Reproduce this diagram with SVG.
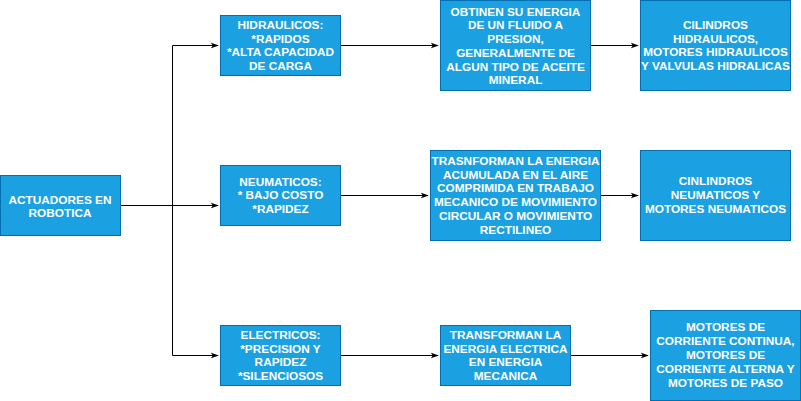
<svg xmlns="http://www.w3.org/2000/svg" width="801" height="401" viewBox="0 0 801 401">
<style>
.box{fill:#1ba1e2;stroke:#006eaf;stroke-width:1}
.t{font-family:"Liberation Sans",Arial,sans-serif;font-weight:bold;font-size:11.8px;fill:#ffffff;text-anchor:middle}
.e{fill:none;stroke:#000000;stroke-width:1}
</style>
<defs>
<marker id="arr" viewBox="0 0 10 10" refX="9" refY="5" markerWidth="8" markerHeight="8" markerUnits="userSpaceOnUse" orient="auto">
<path d="M0,1.5 L10,5 L0,8.5 L2.5,5 Z" fill="#000"/>
</marker>
</defs>
<rect width="801" height="401" fill="#ffffff"/>
<g id="connectors">
<path class="e" d="M120.5,205.5 H218" marker-end="url(#arr)"/>
<path class="e" d="M172.5,205.5 V45.5 H218" marker-end="url(#arr)"/>
<path class="e" d="M172.5,205.5 V355.5 H218" marker-end="url(#arr)"/>
<path class="e" d="M340.5,45.5 H438" marker-end="url(#arr)"/>
<path class="e" d="M590.5,45.5 H638" marker-end="url(#arr)"/>
<path class="e" d="M340.5,195.5 H428" marker-end="url(#arr)"/>
<path class="e" d="M600.5,195.5 H638" marker-end="url(#arr)"/>
<path class="e" d="M340.5,355.5 H438" marker-end="url(#arr)"/>
<path class="e" d="M570.5,355.5 H648" marker-end="url(#arr)"/>
</g>
<g id="actuadores">
<rect class="box" x="0.5" y="175.5" width="120" height="60"/>
<text class="t" x="60" y="203.5">ACTUADORES EN</text>
<text class="t" x="60" y="217">ROBOTICA</text>
</g>
<g id="hidraulicos">
<rect class="box" x="220.5" y="15.5" width="120" height="60"/>
<text class="t" x="280.5" y="29">HIDRAULICOS:</text>
<text class="t" x="280.5" y="42.5">*RAPIDOS</text>
<text class="t" x="280.5" y="56.3">*ALTA CAPACIDAD</text>
<text class="t" x="280.5" y="70">DE CARGA</text>
</g>
<g id="obtinen">
<rect class="box" x="440.5" y="0.5" width="150" height="90"/>
<text class="t" x="515.5" y="15.8">OBTINEN SU ENERGIA</text>
<text class="t" x="515.5" y="29.3">DE UN FLUIDO A</text>
<text class="t" x="515.5" y="43.3">PRESION,</text>
<text class="t" x="515.5" y="56.8">GENERALMENTE DE</text>
<text class="t" x="515.5" y="70.7">ALGUN TIPO DE ACEITE</text>
<text class="t" x="515.5" y="84">MINERAL</text>
</g>
<g id="cilindros">
<rect class="box" x="640.5" y="0.5" width="150" height="90"/>
<text class="t" x="715.5" y="29">CILINDROS</text>
<text class="t" x="715.5" y="42.5">HIDRAULICOS,</text>
<text class="t" x="715.5" y="56.3">MOTORES HIDRAULICOS</text>
<text class="t" x="715.5" y="70">Y VALVULAS HIDRALICAS</text>
</g>
<g id="neumaticos">
<rect class="box" x="220.5" y="165.5" width="120" height="60"/>
<text class="t" x="280.5" y="185.7">NEUMATICOS:</text>
<text class="t" x="280.5" y="199.2">* BAJO COSTO</text>
<text class="t" x="280.5" y="213.3">*RAPIDEZ</text>
</g>
<g id="trasnforman">
<rect class="box" x="430.5" y="150.5" width="170" height="90"/>
<text class="t" x="515.5" y="164.5">TRASNFORMAN LA ENERGIA</text>
<text class="t" x="515.5" y="178.5">ACUMULADA EN EL AIRE</text>
<text class="t" x="515.5" y="192.3">COMPRIMIDA EN TRABAJO</text>
<text class="t" x="515.5" y="206.2">MECANICO DE MOVIMIENTO</text>
<text class="t" x="515.5" y="220">CIRCULAR O MOVIMIENTO</text>
<text class="t" x="515.5" y="233.8">RECTILINEO</text>
</g>
<g id="cinlindros">
<rect class="box" x="640.5" y="150.5" width="150" height="90"/>
<text class="t" x="715.5" y="185">CINLINDROS</text>
<text class="t" x="715.5" y="199">NEUMATICOS Y</text>
<text class="t" x="715.5" y="213">MOTORES NEUMATICOS</text>
</g>
<g id="electricos">
<rect class="box" x="220.5" y="325.5" width="120" height="60"/>
<text class="t" x="280.5" y="339">ELECTRICOS:</text>
<text class="t" x="280.5" y="352.5">*PRECISION Y</text>
<text class="t" x="280.5" y="366.3">RAPIDEZ</text>
<text class="t" x="280.5" y="380">*SILENCIOSOS</text>
</g>
<g id="transforman">
<rect class="box" x="440.5" y="325.5" width="130" height="60"/>
<text class="t" x="505.5" y="339">TRANSFORMAN LA</text>
<text class="t" x="505.5" y="352.5">ENERGIA ELECTRICA</text>
<text class="t" x="505.5" y="366.3">EN ENERGIA</text>
<text class="t" x="505.5" y="380">MECANICA</text>
</g>
<g id="motores">
<rect class="box" x="650.5" y="310.5" width="150" height="90"/>
<text class="t" x="725.5" y="330.7">MOTORES DE</text>
<text class="t" x="725.5" y="344.7">CORRIENTE CONTINUA,</text>
<text class="t" x="725.5" y="359">MOTORES DE</text>
<text class="t" x="725.5" y="373.3">CORRIENTE ALTERNA Y</text>
<text class="t" x="725.5" y="387.3">MOTORES DE PASO</text>
</g>
</svg>
